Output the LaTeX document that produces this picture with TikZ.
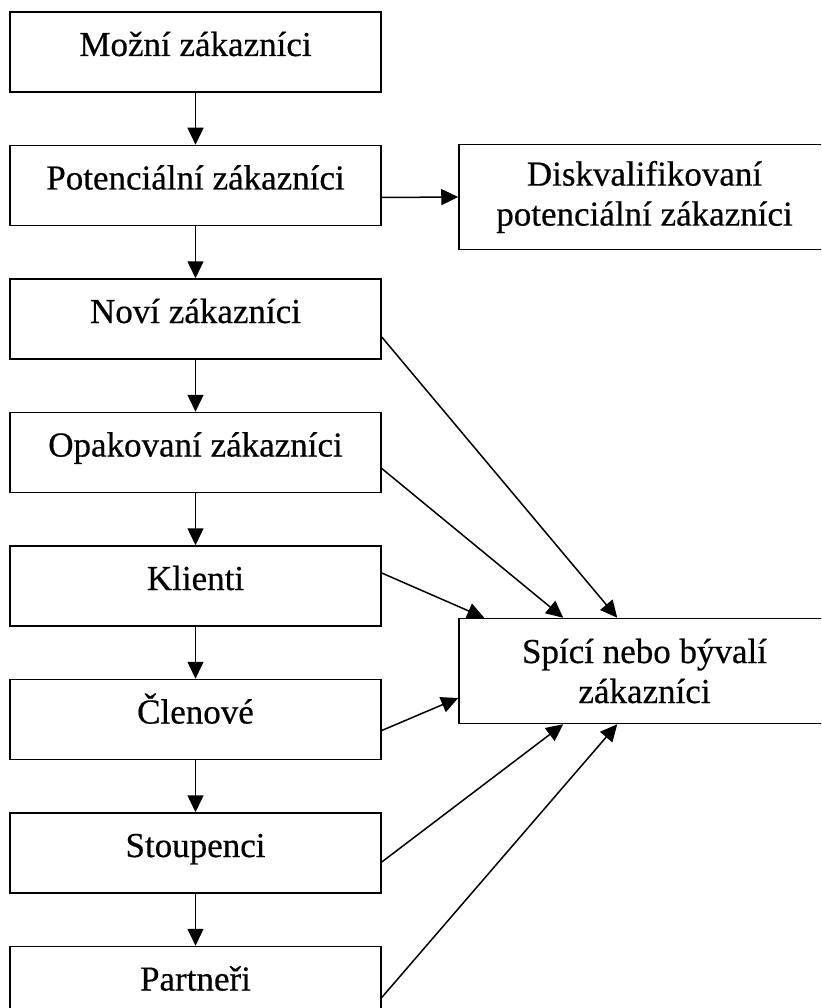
\documentclass[tikz,border=0pt]{standalone}
\usepackage{fontspec}
\setmainfont{Liberation Serif}[FakeBold=0.5]
\usetikzlibrary{positioning,arrows.meta}

\begin{document}
\begin{tikzpicture}[x=1pt, y=-1pt, node distance=52pt,
  box/.style={draw, line width=1.5pt, minimum width=371pt, inner sep=0pt,
    font=\fontsize{35}{40}\selectfont},
  stage/.style={box, minimum height=80pt, text height=24pt, text depth=16pt},
  side/.style={box, minimum height=105pt, align=center},
  flow/.style={line width=1.5pt, -{Triangle[length=17pt,width=16pt]}}]
  \clip (0,0) rectangle (821,1008);
  \node[stage] (mozni) at (195.5,52) {Možní zákazníci};
  \node[stage, below=of mozni] (potencialni) {Potenciální zákazníci};
  \node[stage, below=of potencialni] (novi) {Noví zákazníci};
  \node[stage, below=of novi] (opakovani) {Opakovaní zákazníci};
  \node[stage, below=of opakovani] (klienti) {Klienti};
  \node[stage, below=of klienti] (clenove) {Členové};
  \node[stage, below=of clenove] (stoupenci) {Stoupenci};
  \node[stage, below=of stoupenci] (partneri) {Partneři};
  \node[side] (diskval) at (644.5,197) {Diskvalifikovaní\\potenciální zákazníci};
  \node[side] (spici) at (644.5,671) {Spící nebo bývalí\\zákazníci};

  \draw[flow] (mozni) -- (potencialni);
  \draw[flow] (potencialni) -- (novi);
  \draw[flow] (novi) -- (opakovani);
  \draw[flow] (opakovani) -- (klienti);
  \draw[flow] (klienti) -- (clenove);
  \draw[flow] (clenove) -- (stoupenci);
  \draw[flow] (stoupenci) -- (partneri);
  \draw[flow] ([yshift=-12pt]potencialni.east) -- (diskval.west);

  \draw[flow] ([yshift=-18pt]novi.east) -- ([xshift=159pt]spici.north west);
  \draw[flow] ([yshift=-16pt]opakovani.east) -- ([xshift=105pt]spici.north west);
  \draw[flow] ([yshift=13pt]klienti.east) -- ([xshift=26pt]spici.north west);
  \draw[flow] ([yshift=-11pt]clenove.east) -- ([yshift=-27pt]spici.west);
  \draw[flow] ([yshift=-9pt]stoupenci.east) -- ([xshift=105pt]spici.south west);
  \draw[flow] ([yshift=-11pt]partneri.east) -- ([xshift=159pt]spici.south west);
\end{tikzpicture}
\end{document}
